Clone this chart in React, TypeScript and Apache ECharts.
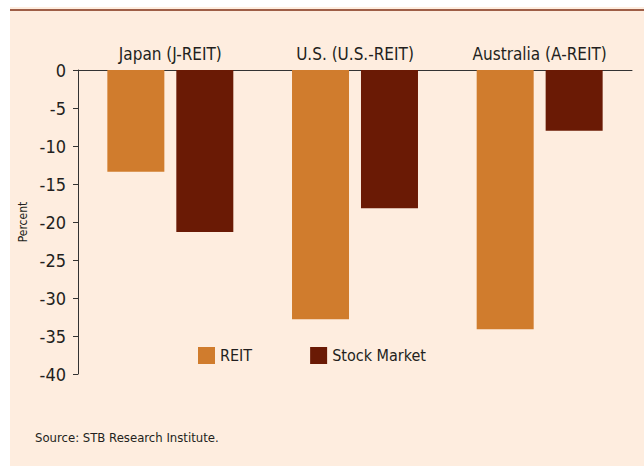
import React, { useEffect, useRef } from "react";
import * as echarts from "echarts";

const categories = ["Japan (J-REIT)", "U.S. (U.S.-REIT)", "Australia (A-REIT)"];
const reitValues = [-13.4, -32.8, -34.1];
const stockValues = [-21.3, -18.2, -8.0];
const seriesNames = ["REIT", "Stock Market"];
const sourceText = "Source: STB Research Institute.";
const yAxisName = "Percent";

const FONT = "'DejaVu Sans Condensed', 'Liberation Sans Narrow', sans-serif";
const TEXT = "#231f20";

export default function App() {
  const ref = useRef<HTMLDivElement>(null);
  useEffect(() => {
    if (!ref.current) return;
    const chart = echarts.init(ref.current, undefined, { renderer: "svg" });
    chart.setOption({
      animation: false,
      backgroundColor: "#ffffff",
      textStyle: { fontFamily: FONT, color: TEXT },
      graphic: [
        { type: "rect", z: -10, silent: true, shape: { x: 10, y: 7, width: 634, height: 459 }, style: { fill: "#feeddf" } },
        { type: "rect", z: -9, silent: true, shape: { x: 10, y: 9, width: 634, height: 2 }, style: { fill: "#9e5e47" } },
        { type: "text", x: 35, y: 437, style: { text: sourceText, fontSize: 13, fontFamily: FONT, fill: TEXT, textVerticalAlign: "middle" } },
      ],
      grid: { left: 78, right: 12, top: 70, bottom: 94, containLabel: false },
      legend: {
        data: seriesNames,
        left: 193,
        top: 342,
        itemWidth: 17,
        itemHeight: 17,
        itemGap: 58,
        icon: "rect",
        textStyle: { fontSize: 16, fontFamily: FONT, color: TEXT },
      },
      xAxis: {
        type: "category",
        position: "top",
        data: categories,
        axisLine: { lineStyle: { color: "#333333", width: 1 } },
        axisTick: { length: 5, lineStyle: { color: "#333333" } },
        axisLabel: { fontSize: 17, color: TEXT, fontFamily: FONT, margin: 8, interval: 0 },
      },
      yAxis: {
        type: "value",
        min: -40,
        max: 0,
        interval: 5,
        name: yAxisName,
        nameLocation: "middle",
        nameRotate: 90,
        nameGap: 44,
        nameTextStyle: { fontSize: 12, color: TEXT, fontFamily: FONT },
        axisLine: { show: true, lineStyle: { color: "#333333", width: 1 } },
        axisTick: { show: true, length: 5, lineStyle: { color: "#333333" } },
        splitLine: { show: false },
        axisLabel: { fontSize: 18, color: TEXT, fontFamily: FONT, margin: 12 },
      },
      series: [
        { name: seriesNames[0], type: "bar", data: reitValues, barWidth: 57, barGap: "21%", itemStyle: { color: "#d07c2d" } },
        { name: seriesNames[1], type: "bar", data: stockValues, barWidth: 57, itemStyle: { color: "#6a1a05" } },
      ],
    });
    return () => chart.dispose();
  }, []);
  return <div ref={ref} style={{ position: "absolute", left: 0, top: 0, width: 644, height: 468 }} />;
}
